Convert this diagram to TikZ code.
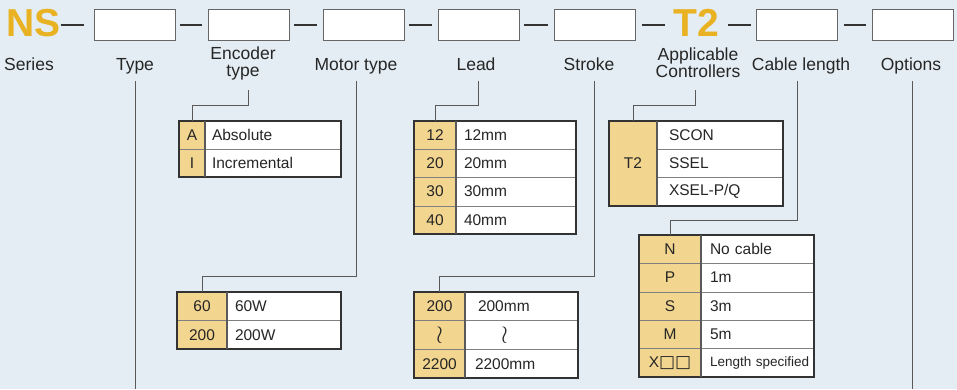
\documentclass[tikz,border=0pt]{standalone}
\usepackage{fontspec}
\setmainfont{Liberation Sans}
\newfontfamily\symfont{DejaVu Sans}
\usepackage{xcolor}
\definecolor{bgblue}{RGB}{228,237,243}
\definecolor{nsgold}{RGB}{233,178,34}
\definecolor{codetan}{RGB}{242,213,143}
\usetikzlibrary{positioning}

\begin{document}
\begin{tikzpicture}[x=1pt,y=-1pt,
  slotbox/.style={rectangle,draw=black!60,fill=white,line width=0.9pt,minimum width=81pt,minimum height=31pt,inner sep=0pt},
  headtxt/.style={font=\fontsize{39}{39}\selectfont\bfseries,text=nsgold,inner sep=0pt},
  fieldlbl/.style={font=\fontsize{17.5}{17}\selectfont,align=center,text=black!85,inner sep=0pt},
  codecell/.style={rectangle,fill=codetan,draw=black!50,minimum width=#1,inner sep=0pt,outer sep=0pt,font=\fontsize{15.5}{17}\selectfont,text=black!85},
  valcell/.style 2 args={rectangle,fill=white,draw=black!50,text width=#1,inner xsep=#2,inner ysep=0pt,outer sep=0pt,align=left,font=\fontsize{15.5}{17}\selectfont,text=black!85},
  tblframe/.style={draw=black!80,line width=1.1pt},
  dashline/.style={line width=2pt,black!80},
  leadline/.style={draw=black!65,line width=0.9pt}
]
  \fill[bgblue] (0,0) rectangle (957,389);
  \useasboundingbox (0,0) rectangle (957,389);

  % Model code
  \node[headtxt,anchor=base west] (ns) at (6,36) {NS};
  \node[slotbox] (s1) at (134.5,24.5) {};
  \node[slotbox] (s2) at (248.5,24.5) {};
  \node[slotbox] (s3) at (363.5,24.5) {};
  \node[slotbox] (s4) at (478.5,24.5) {};
  \node[slotbox] (s5) at (594.5,24.5) {};
  \node[headtxt,anchor=base west] (t2) at (673,36) {T2};
  \node[slotbox] (s6) at (796.5,24.5) {};
  \node[slotbox] (s7) at (912.5,24.5) {};

  \draw[dashline,shorten >=10pt] (s1.west -| ns.east) -- (s1.west);
  \draw[dashline,shorten <=5pt,shorten >=6pt] (s1) -- (s2);
  \draw[dashline,shorten <=5pt,shorten >=6pt] (s2) -- (s3);
  \draw[dashline,shorten <=5pt,shorten >=6pt] (s3) -- (s4);
  \draw[dashline,shorten <=5pt,shorten >=6pt] (s4) -- (s5);
  \draw[dashline,shorten <=7pt,shorten >=8pt] (s5.east) -- (s5.east -| t2.west);
  \draw[dashline,shorten <=9pt,shorten >=5pt] (s6.west -| t2.east) -- (s6.west);
  \draw[dashline,shorten <=7pt,shorten >=6pt] (s6) -- (s7);

  % Field labels
  \node[fieldlbl,anchor=base] (lblSer) at (29,70) {Series};
  \node[fieldlbl,anchor=base] (lblType) at (135,70) {Type};
  \node[fieldlbl] (lblEnc) at (243,63) {Encoder\\type};
  \node[fieldlbl,anchor=base] (lblMot) at (356,70) {Motor type};
  \node[fieldlbl,anchor=base] (lblLead) at (476,70) {Lead};
  \node[fieldlbl,anchor=base] (lblStr) at (589,70) {Stroke};
  \node[fieldlbl] (lblCtl) at (698,63) {Applicable\\Controllers};
  \node[fieldlbl,anchor=base] (lblCab) at (801,70) {Cable length};
  \node[fieldlbl,anchor=base] (lblOpt) at (911,70) {Options};

  % Encoder type
  \begin{scope}[every node/.append style={minimum height=28pt}]
    \node[codecell=26pt,anchor=north west] (encA) at (179,121) {A};
    \node[valcell={122pt}{7pt},right=0pt of encA] (encAv) {Absolute};
    \node[codecell=26pt,below=0pt of encA] (encI) {I};
    \node[valcell={122pt}{7pt},right=0pt of encI] (encIv) {Incremental};
  \end{scope}
  \draw[tblframe] (encA.north west) rectangle (encIv.south east);
  \draw[tblframe,draw=black!65] (encA.north east) -- (encI.south east);

  % Lead
  \begin{scope}[every node/.append style={minimum height=28.25pt}]
    \node[codecell=42pt,anchor=north west] (ld12) at (414,121) {12};
    \node[valcell={104pt}{8pt},right=0pt of ld12] (ld12v) {12mm};
    \node[codecell=42pt,below=0pt of ld12] (ld20) {20};
    \node[valcell={104pt}{8pt},right=0pt of ld20] (ld20v) {20mm};
    \node[codecell=42pt,below=0pt of ld20] (ld30) {30};
    \node[valcell={104pt}{8pt},right=0pt of ld30] (ld30v) {30mm};
    \node[codecell=42pt,below=0pt of ld30] (ld40) {40};
    \node[valcell={104pt}{8pt},right=0pt of ld40] (ld40v) {40mm};
  \end{scope}
  \draw[tblframe] (ld12.north west) rectangle (ld40v.south east);
  \draw[tblframe,draw=black!65] (ld12.north east) -- (ld40.south east);

  % Applicable controllers
  \begin{scope}[every node/.append style={minimum height=28.33pt}]
    \node[codecell=48pt,minimum height=85pt,anchor=north west] (ctlT) at (609,121) {T2};
    \node[valcell={102pt}{12pt},anchor=north west] (ctl1) at (ctlT.north east) {SCON};
    \node[valcell={102pt}{12pt},below=0pt of ctl1] (ctl2) {SSEL};
    \node[valcell={102pt}{12pt},below=0pt of ctl2] (ctl3) {XSEL-P/Q};
  \end{scope}
  \draw[tblframe] (ctlT.north west) rectangle (ctl3.south east);
  \draw[tblframe,draw=black!65] (ctlT.north east) -- (ctlT.south east);

  % Motor type
  \begin{scope}[every node/.append style={minimum height=28.5pt}]
    \node[codecell=50pt,anchor=north west] (mt60) at (177,292) {60};
    \node[valcell={98pt}{8pt},right=0pt of mt60] (mt60v) {60W};
    \node[codecell=50pt,below=0pt of mt60] (mt200) {200};
    \node[valcell={98pt}{8pt},right=0pt of mt200] (mt200v) {200W};
  \end{scope}
  \draw[tblframe] (mt60.north west) rectangle (mt200v.south east);
  \draw[tblframe,draw=black!65] (mt60.north east) -- (mt200.south east);

  % Stroke
  \begin{scope}[every node/.append style={minimum height=28.67pt}]
    \node[codecell=51pt,anchor=north west] (st200) at (414,292) {200};
    \node[valcell={93pt}{10pt},right=0pt of st200] (st200v) {\hspace*{3pt}200mm};
    \node[codecell=51pt,below=0pt of st200] (stWr) {\fontsize{24}{24}\selectfont$\wr$};
    \node[valcell={93pt}{10pt},right=0pt of stWr] (stWrv) {\hspace*{26pt}\fontsize{24}{24}\selectfont$\wr$};
    \node[codecell=51pt,below=0pt of stWr] (st2200) {2200};
    \node[valcell={93pt}{10pt},right=0pt of st2200] (st2200v) {2200mm};
  \end{scope}
  \draw[tblframe] (st200.north west) rectangle (st2200v.south east);
  \draw[tblframe,draw=black!65] (st200.north east) -- (st2200.south east);

  % Cable length
  \begin{scope}[every node/.append style={minimum height=28.4pt}]
    \node[codecell=62pt,anchor=north west] (cbN) at (639,235) {N};
    \node[valcell={95pt}{9pt},right=0pt of cbN] (cbNv) {No cable};
    \node[codecell=62pt,below=0pt of cbN] (cbP) {P};
    \node[valcell={95pt}{9pt},right=0pt of cbP] (cbPv) {1m};
    \node[codecell=62pt,below=0pt of cbP] (cbS) {S};
    \node[valcell={95pt}{9pt},right=0pt of cbS] (cbSv) {3m};
    \node[codecell=62pt,below=0pt of cbS] (cbM) {M};
    \node[valcell={95pt}{9pt},right=0pt of cbM] (cbMv) {5m};
    \node[codecell=62pt,below=0pt of cbM] (cbX) {X{\symfont\fontsize{17}{17}\selectfont □□}};
    \node[valcell={109pt}{2pt},right=0pt of cbX,font=\fontsize{13.5}{15}\selectfont] (cbXv) {\hspace*{7pt}Length specified};
  \end{scope}
  \draw[tblframe] (cbN.north west) rectangle (cbXv.south east);
  \draw[tblframe,draw=black!65] (cbN.north east) -- (cbX.south east);

  % Leaders
  \coordinate (typeTop) at (135,81);
  \coordinate (typeEnd) at (135,389);
  \coordinate (encTop) at (248,90);
  \coordinate (motTop) at (356,81);
  \coordinate (leadTop) at (478,81);
  \coordinate (strTop) at (594,81);
  \coordinate (ctlTop) at (695,90);
  \coordinate (cabTop) at (797,81);
  \coordinate (optTop) at (912,81);
  \coordinate (optEnd) at (912,389);

  \draw[leadline] (typeTop) -- (typeEnd);
  \draw[leadline] (encTop) -- ++(0,15) -| (encA.north);
  \draw[leadline] (motTop) -- ++(0,195) -| (mt60.north);
  \draw[leadline] (leadTop) -- ++(0,24) -| (ld12.north);
  \draw[leadline] (strTop) -- ++(0,195) -| (st200.north);
  \draw[leadline] (ctlTop) -- ++(0,15) -| (ctlT.north);
  \draw[leadline] (cabTop) -- ++(0,139) -| (cbN.north);
  \draw[leadline] (optTop) -- (optEnd);
\end{tikzpicture}
\end{document}
